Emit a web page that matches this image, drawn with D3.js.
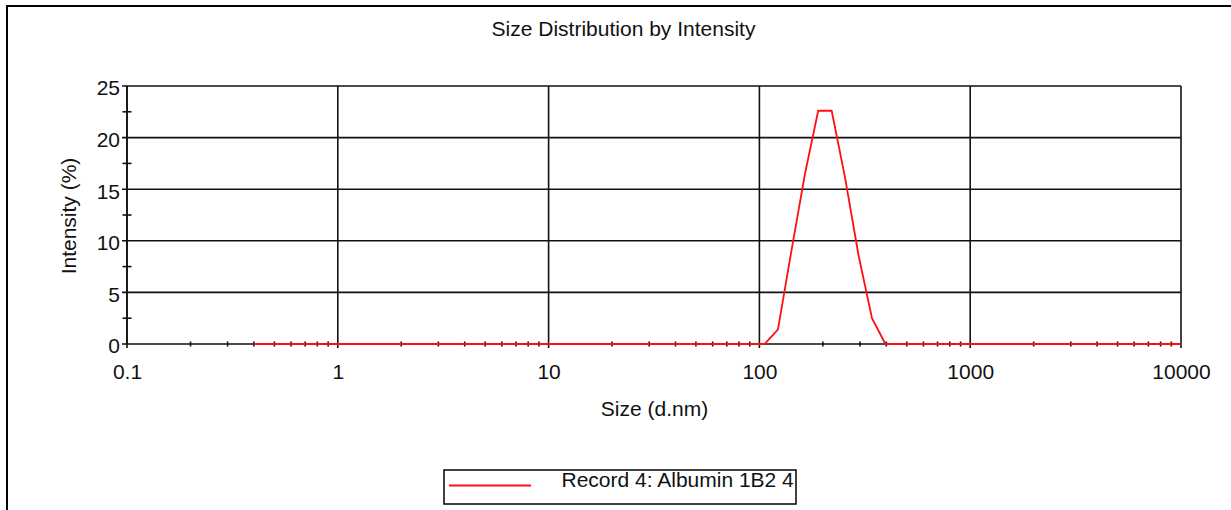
<!DOCTYPE html>
<html>
<head>
<meta charset="utf-8">
<script src="https://cdn.jsdelivr.net/npm/d3@7/dist/d3.min.js"></script>
<style>
	html, body { margin: 0; padding: 0; background: #fff; }
	svg text { font-family: "Liberation Sans", Arial, sans-serif; fill: #111; }
</style>
</head>
<body>
<svg id="graph" width="1231" height="510"></svg>
<script>
// size classes (d.nm), one per Zetasizer bin
var sizes = [0.4, 0.4632, 0.5365, 0.6213, 0.7195, 0.8332, 0.9649, 1.117, 1.294, 1.499,
	1.736, 2.010, 2.328, 2.696, 3.122, 3.615, 4.187, 4.849, 5.615, 6.503, 7.531, 8.721,
	10.10, 11.70, 13.54, 15.69, 18.17, 21.04, 24.36, 28.21, 32.67, 37.84, 43.82, 50.75,
	58.77, 68.06, 78.82, 91.28, 105.7, 122.4, 141.8, 164.2, 190.1, 220.2, 255.0, 295.3,
	342.0, 396.1, 458.7, 531.2, 615.1, 712.4, 825.0, 955.4, 1106, 1281, 1484, 1718, 1990,
	2305, 2669, 3091, 3580, 4145, 4801, 5560, 6439, 7456, 8635, 10000];
// intensity (%) for "Record 4: Albumin 1B2 4"
var intensity = [0, 0, 0, 0, 0, 0, 0, 0, 0, 0,
	0, 0, 0, 0, 0, 0, 0, 0, 0, 0, 0, 0,
	0, 0, 0, 0, 0, 0, 0, 0, 0, 0, 0, 0,
	0, 0, 0, 0, 0, 1.4, 9.0, 16.4, 22.6, 22.6, 16.1, 8.6,
	2.5, 0, 0, 0, 0, 0, 0, 0, 0, 0, 0, 0, 0,
	0, 0, 0, 0, 0, 0, 0, 0, 0, 0, 0];
var xTickValues = [0.1, 1, 10, 100, 1000, 10000];
var xTickLabels = ["0.1", "1", "10", "100", "1000", "10000"];
var yTickValues = [0, 5, 10, 15, 20, 25];
var yTickLabels = ["0", "5", "10", "15", "20", "25"];
var seriesName = "Record 4: Albumin 1B2 4";

var svg = d3.select('#graph');

var x = d3.scaleLog().domain([0.1, 10000]).range([127, 1181]);
var y = d3.scaleLinear().domain([0, 25]).range([344, 86]);

// outer frame (only top and left edges fall inside the picture)
svg.append('rect')
	.attr('x', 7).attr('y', 6).attr('width', 1300).attr('height', 600)
	.attr('fill', 'none').attr('stroke', '#000').attr('stroke-width', 2);

svg.append('text')
	.attr('x', 623.5).attr('y', 36)
	.attr('text-anchor', 'middle')
	.style('font-size', '21px')
	.text('Size Distribution by Intensity');

var grid = svg.append('g').attr('stroke', '#111').attr('stroke-width', 1.6);

// horizontal grid
grid.selectAll('line.h')
	.data(yTickValues)
	.enter().append('line')
	.attr('class', 'h')
	.attr('x1', x(0.1) - 5).attr('x2', x(10000))
	.attr('y1', function (d) { return y(d); })
	.attr('y2', function (d) { return y(d); });

// vertical grid at decades
grid.selectAll('line.v')
	.data(xTickValues)
	.enter().append('line')
	.attr('class', 'v')
	.attr('x1', function (d) { return x(d); })
	.attr('x2', function (d) { return x(d); })
	.attr('y1', y(25)).attr('y2', y(0) + 4);

// minor ticks
var xMinor = x.ticks().filter(function (d) { return xTickValues.indexOf(d) < 0; });
grid.selectAll('line.xm')
	.data(xMinor)
	.enter().append('line')
	.attr('class', 'xm')
	.attr('x1', function (d) { return x(d); })
	.attr('x2', function (d) { return x(d); })
	.attr('y1', y(0) - 2.5).attr('y2', y(0) + 2.5);

var yMinor = d3.pairs(yTickValues).map(function (p) { return (p[0] + p[1]) / 2; });
grid.selectAll('line.ym')
	.data(yMinor)
	.enter().append('line')
	.attr('class', 'ym')
	.attr('x1', x(0.1) - 4.5).attr('x2', x(0.1) + 4.5)
	.attr('y1', function (d) { return y(d); })
	.attr('y2', function (d) { return y(d); });

// y axis line
grid.append('line')
	.attr('x1', x(0.1)).attr('x2', x(0.1))
	.attr('y1', y(25)).attr('y2', y(0));

// tick labels through d3 axes
var xAxis = svg.append('g')
	.attr('transform', 'translate(0,' + y(0) + ')')
	.call(d3.axisBottom(x).tickValues(xTickValues)
		.tickFormat(function (d, i) { return xTickLabels[i]; })
		.tickSize(0).tickPadding(20));
xAxis.select('.domain').remove();
xAxis.selectAll('text').style('font-size', '21px').attr('fill', '#111');

var yAxis = svg.append('g')
	.attr('transform', 'translate(' + x(0.1) + ',0)')
	.call(d3.axisLeft(y).tickValues(yTickValues)
		.tickFormat(function (d, i) { return yTickLabels[i]; })
		.tickSize(0).tickPadding(7));
yAxis.select('.domain').remove();
yAxis.selectAll('text').style('font-size', '21px').attr('dy', '0.42em').attr('fill', '#111');

svg.selectAll('.tick line').remove();
xAxis.attr('font-family', null).attr('font-size', null);
yAxis.attr('font-family', null).attr('font-size', null);

svg.append('text')
	.attr('x', 654.5).attr('y', 416)
	.attr('text-anchor', 'middle')
	.style('font-size', '21px')
	.text('Size (d.nm)');

svg.append('text')
	.attr('transform', 'translate(76,216) rotate(-90)')
	.attr('text-anchor', 'middle')
	.style('font-size', '21px')
	.text('Intensity (%)');

// series
var line = d3.line()
	.x(function (d, i) { return x(sizes[i]); })
	.y(function (d) { return y(d); });

svg.append('path')
	.datum(intensity)
	.attr('d', line)
	.attr('fill', 'none')
	.attr('stroke', '#ff1010')
	.attr('stroke-width', 1.8);

// legend
var legend = svg.append('g');
legend.append('rect')
	.attr('x', 444).attr('y', 470).attr('width', 352).attr('height', 34)
	.attr('fill', '#fff').attr('stroke', '#111').attr('stroke-width', 1.6);
legend.append('line')
	.attr('x1', 449).attr('x2', 531).attr('y1', 485.5).attr('y2', 485.5)
	.attr('stroke', '#ff1010').attr('stroke-width', 1.8);
legend.append('text')
	.attr('x', 561.5).attr('y', 486.5)
	.style('font-size', '21px')
	.text(seriesName);
</script>
</body>
</html>
